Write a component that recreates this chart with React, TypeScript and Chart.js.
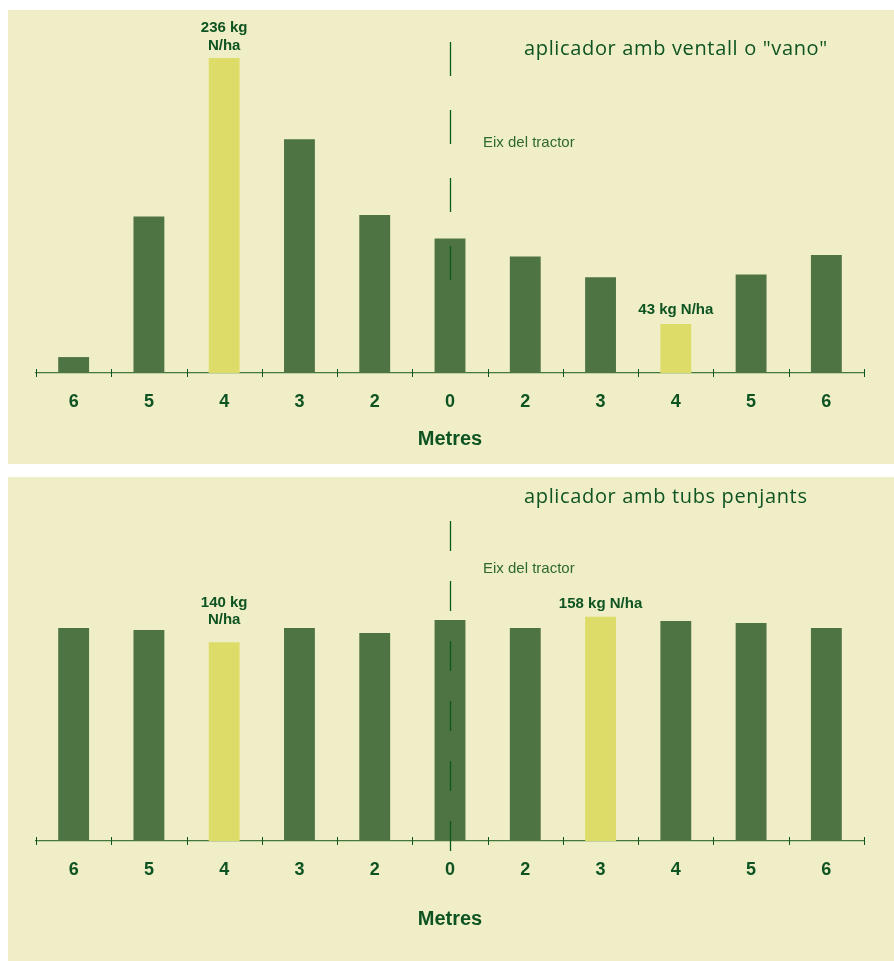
import { useEffect, useRef } from "react";
import { Chart, registerables } from "chart.js";

Chart.register(...registerables);

// ---------- data ----------
const categories = ["6", "5", "4", "3", "2", "0", "2", "3", "4", "5", "6"];
// kg N/ha applied at each distance from the tractor axis
const vanoValues = [19, 121, 236, 177, 122, 105, 92, 77, 43, 79, 93];
const tubsValues = [150, 148.6, 140, 150, 146.5, 155.6, 150, 158, 155, 153.5, 150];
const vanoHighlight = [2, 8];
const tubsHighlight = [2, 7];
const vanoNotes = [["236 kg", "N/ha"], ["43 kg N/ha"]];
const tubsNotes = [["140 kg", "N/ha"], ["158 kg N/ha"]];
const vanoTitle = 'aplicador amb ventall o "vano"';
const tubsTitle = "aplicador amb tubs penjants";
const axisLabel = "Metres";
const axisNote = "Eix del tractor";
const centerIndex = 5;

// ---------- styles ----------
const BG = "#f0eec6";
const DARK = "#4e7444";
const YELLOW = "#dedc68";
const TEXT = "#0e5422";
const LIGHT_TEXT = "#2f6a2c";
const AXIS = "#3f7a3a";
const SANS = "'Liberation Sans', Arial, Helvetica, sans-serif";
const TITLE_FONT = "'Open Sans', 'Noto Sans', sans-serif";

type PanelCfg = {
  left: number;
  top: number;
  width: number;
  height: number;
  values: number[];
  highlight: number[];
  notes: string[][];
  noteOffsets: number[][];
  title: string;
  titleX: number;
  titleBaseline: number;
  noteX: number;
  noteBaseline: number;
  yMin: number;
  yMax: number;
  pad: { top: number; bottom: number; left: number; right: number };
  axisHeight: number;
  dashFrom: number; // offset from chart-area top
  dashTo: number;
  dash: number;
};

const panels: PanelCfg[] = [
  {
    left: 8,
    top: 10,
    width: 886,
    height: 454,
    values: vanoValues,
    highlight: vanoHighlight,
    notes: vanoNotes,
    noteOffsets: [[30, 12], [14]],
    title: vanoTitle,
    titleX: 516,
    titleBaseline: 45,
    noteX: 475,
    noteBaseline: 137,
    yMin: 7.45,
    yMax: 256.3,
    pad: { top: 20, bottom: 13, left: 28, right: 30 },
    axisHeight: 78,
    dashFrom: 12,
    dashTo: 250,
    dash: 34,
  },
  {
    left: 8,
    top: 477,
    width: 886,
    height: 484,
    values: tubsValues,
    highlight: tubsHighlight,
    notes: tubsNotes,
    noteOffsets: [[39, 22], [13]],
    title: tubsTitle,
    titleX: 516,
    titleBaseline: 26,
    noteX: 475,
    noteBaseline: 96,
    yMin: 0,
    yMax: 242.25,
    pad: { top: 20, bottom: 30, left: 28, right: 30 },
    axisHeight: 90,
    dashFrom: 24,
    dashTo: 354,
    dash: 30,
  },
];

function Panel({ cfg }: { cfg: PanelCfg }) {
  const ref = useRef<HTMLCanvasElement | null>(null);

  useEffect(() => {
    const canvas = ref.current;
    if (!canvas) return;

    const overlay = {
      id: "overlay",
      afterDatasetsDraw(chart: any) {
        const ctx = chart.ctx as CanvasRenderingContext2D;
        const area = chart.chartArea;
        const xs = chart.scales.x;
        const meta = chart.getDatasetMeta(0);
        const half = (xs.getPixelForValue(1) - xs.getPixelForValue(0)) / 2;
        ctx.save();

        // tick marks at category boundaries
        ctx.strokeStyle = TEXT;
        ctx.lineWidth = 1;
        for (let i = 0; i <= categories.length; i++) {
          const px = Math.round(xs.getPixelForValue(0) - half + i * 2 * half) + 0.5;
          ctx.beginPath();
          ctx.moveTo(px, area.bottom - 4);
          ctx.lineTo(px, area.bottom + 4);
          ctx.stroke();
        }

        // tractor axis (dashed)
        const cx = Math.round(xs.getPixelForValue(centerIndex)) + 0.5;
        ctx.strokeStyle = "#0a5a1c";
        ctx.lineWidth = 1.3;
        ctx.setLineDash([cfg.dash, cfg.dash]);
        ctx.beginPath();
        ctx.moveTo(cx, area.top + cfg.dashFrom);
        ctx.lineTo(cx, area.top + cfg.dashTo);
        ctx.stroke();
        ctx.setLineDash([]);

        // value notes over highlighted bars
        ctx.fillStyle = TEXT;
        ctx.font = `bold 15px ${SANS}`;
        ctx.textAlign = "center";
        ctx.textBaseline = "middle";
        cfg.highlight.forEach((idx, k) => {
          const bar = meta.data[idx];
          cfg.notes[k].forEach((line, j) => {
            ctx.fillText(line, bar.x, bar.y - cfg.noteOffsets[k][j]);
          });
        });

        // panel title
        ctx.textAlign = "left";
        ctx.textBaseline = "alphabetic";
        ctx.font = `20px ${TITLE_FONT}`;
        (ctx as any).letterSpacing = "0.65px";
        ctx.fillStyle = TEXT;
        ctx.fillText(cfg.title, cfg.titleX, cfg.titleBaseline);
        (ctx as any).letterSpacing = "0px";

        // axis note
        ctx.font = `15px ${SANS}`;
        ctx.fillStyle = LIGHT_TEXT;
        ctx.fillText(axisNote, cfg.noteX, cfg.noteBaseline);
        ctx.restore();
      },
    };

    const chart = new Chart(canvas, {
      type: "bar",
      data: {
        labels: categories,
        datasets: [
          {
            data: cfg.values,
            backgroundColor: cfg.values.map((_, i) =>
              cfg.highlight.includes(i) ? YELLOW : DARK
            ),
            borderWidth: 0,
            categoryPercentage: 1,
            barPercentage: 0.41,
          },
        ],
      },
      options: {
        responsive: false,
        animation: false,
        devicePixelRatio: 1,
        layout: { padding: cfg.pad },
        plugins: {
          legend: { display: false },
          tooltip: { enabled: false },
          title: { display: false },
        },
        scales: {
          y: { display: false, min: cfg.yMin, max: cfg.yMax },
          x: {
            offset: true,
            grid: { display: false, drawTicks: false },
            border: { display: true, color: AXIS, width: 1.3 },
            ticks: {
              color: TEXT,
              padding: 18,
              font: { family: SANS, size: 18, weight: "bold" },
              maxRotation: 0,
              autoSkip: false,
            },
            title: {
              display: true,
              text: axisLabel,
              color: TEXT,
              padding: 0,
              font: { family: SANS, size: 20, weight: "bold" },
            },
            afterFit: (scale: any) => {
              scale.height = cfg.axisHeight;
            },
          },
        },
      },
      plugins: [overlay],
    } as any);

    return () => chart.destroy();
  }, [cfg]);

  return (
    <div
      style={{
        position: "absolute",
        left: cfg.left,
        top: cfg.top,
        width: cfg.width,
        height: cfg.height,
        background: BG,
        overflow: "hidden",
      }}
    >
      <canvas
        ref={ref}
        width={cfg.width}
        height={cfg.height}
        style={{ display: "block", width: cfg.width, height: cfg.height }}
      />
    </div>
  );
}

export default function App() {
  return (
    <div
      style={{
        position: "fixed",
        left: 0,
        top: 0,
        width: 894,
        height: 961,
        overflow: "hidden",
        background: "#ffffff",
      }}
    >
      {panels.map((p, i) => (
        <Panel key={i} cfg={p} />
      ))}
    </div>
  );
}
